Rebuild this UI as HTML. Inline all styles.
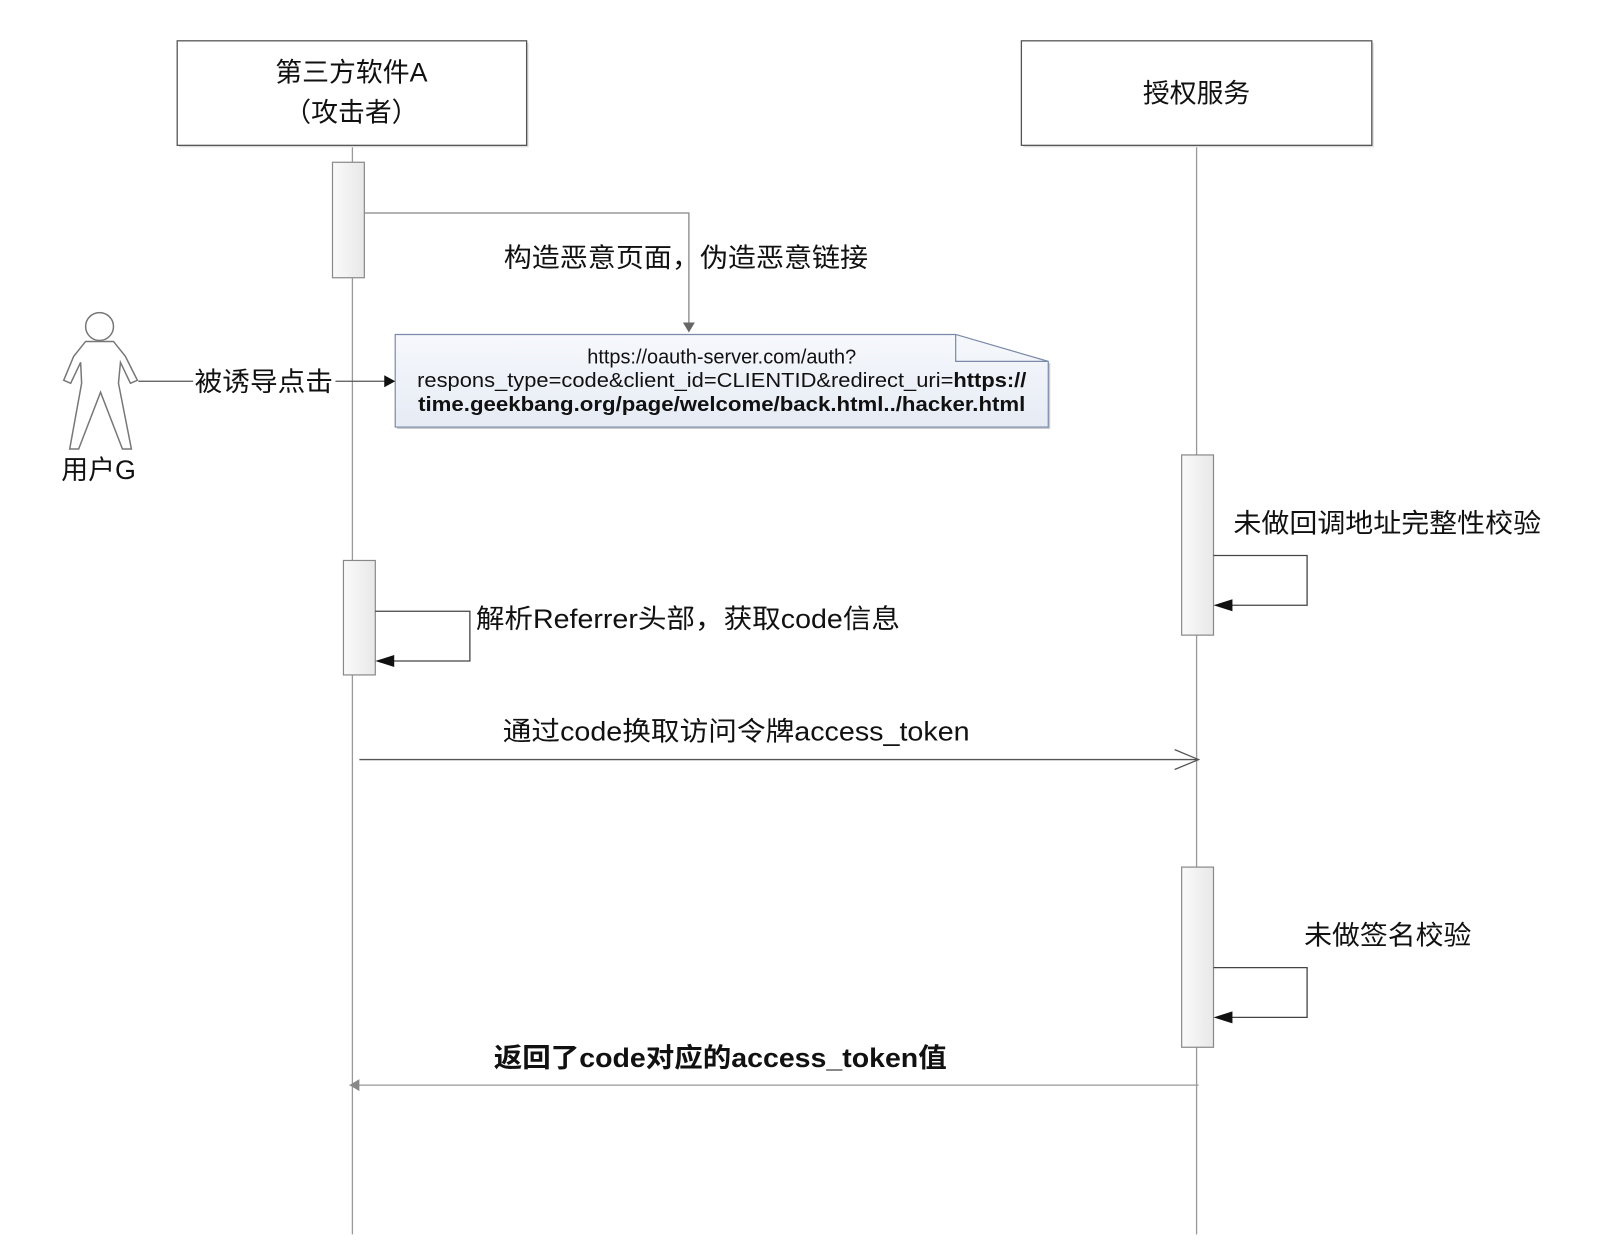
<!DOCTYPE html>
<html><head><meta charset="utf-8"><style>
html,body{margin:0;padding:0;background:#fff;}
svg{display:block;}
text{font-family:"Liberation Sans","Noto Sans CJK SC",sans-serif;fill:#111;}
</style></head><body>
<svg width="1610" height="1260" viewBox="0 0 1610 1260" xmlns="http://www.w3.org/2000/svg">
<defs>
<linearGradient id="ag" x1="0" x2="1"><stop offset="0" stop-color="#fafafa"/><stop offset="1" stop-color="#e8e8e8"/></linearGradient>
<linearGradient id="ng" x1="0" y1="0" x2="0" y2="1"><stop offset="0" stop-color="#f6f8fc"/><stop offset="1" stop-color="#e6ebf4"/></linearGradient>
</defs>
<g transform="scale(0.9955)">
<!-- lifelines -->
<line x1="354" y1="146" x2="354" y2="1240" stroke="#999" stroke-width="1.3"/>
<line x1="1202" y1="146" x2="1202" y2="1240" stroke="#999" stroke-width="1.3"/>
<!-- header boxes -->
<rect x="180" y="43" width="351" height="105" fill="#ddd"/>
<rect x="178" y="41" width="351" height="105" fill="#fff" stroke="#555" stroke-width="1.3"/>
<text x="353" y="82" font-size="27" text-anchor="middle">第三方软件A</text>
<text x="353" y="122" font-size="27" text-anchor="middle">（攻击者）</text>
<rect x="1028" y="43" width="352" height="105" fill="#ddd"/>
<rect x="1026" y="41" width="352" height="105" fill="#fff" stroke="#555" stroke-width="1.3"/>
<text x="1202" y="103" font-size="27" text-anchor="middle">授权服务</text>
<!-- activations -->
<rect x="334" y="163" width="32" height="116" fill="url(#ag)" stroke="#888" stroke-width="1.2"/>
<rect x="345" y="563" width="32" height="115" fill="url(#ag)" stroke="#888" stroke-width="1.2"/>
<rect x="1187" y="457" width="32" height="181" fill="url(#ag)" stroke="#888" stroke-width="1.2"/>
<rect x="1187" y="871" width="32" height="181" fill="url(#ag)" stroke="#888" stroke-width="1.2"/>
<!-- message 1 -->
<polyline points="366,214 692,214 692,328" fill="none" stroke="#888" stroke-width="1.3"/>
<polygon points="686,324 698,324 692,334" fill="#666"/>
<text x="689" y="268" font-size="27" text-anchor="middle" textLength="366" lengthAdjust="spacingAndGlyphs">构造恶意页面，伪造恶意链接</text>
<!-- note -->
<polygon points="399,338 962,338 1055,365 1055,431 399,431" fill="#ccc"/>
<polygon points="397,336 960,336 1053,363 1053,429 397,429" fill="url(#ng)" stroke="#7a8aa8" stroke-width="1.2"/>
<polyline points="960,336 960,363 1053,363" fill="none" stroke="#7a8aa8" stroke-width="1.2"/>
<text x="725" y="365" font-size="20" text-anchor="middle" fill="#222">https://oauth-server.com/auth?</text>
<text x="725" y="389" font-size="20" text-anchor="middle" fill="#222" textLength="612" lengthAdjust="spacingAndGlyphs">respons_type=code&amp;client_id=CLIENTID&amp;redirect_uri=<tspan font-weight="bold">https://</tspan></text>
<text x="725" y="413" font-size="20" text-anchor="middle" font-weight="bold" fill="#222" textLength="610" lengthAdjust="spacingAndGlyphs">time.geekbang.org/page/welcome/back.html../hacker.html</text>
<!-- actor -->
<g fill="#fff" stroke="#777" stroke-width="1.5">
<circle cx="100" cy="328" r="14"/>
<path d="M86,343 L114,343 L126,358 L138,382 L131,385 L121,364 L119,385 L132,451 L123,451 L101,394 L79,451 L70,451 L82,385 L81,364 L71,385 L64,382 L74,358 Z"/>
</g>
<text x="99" y="481" font-size="27" text-anchor="middle">用户G</text>
<line x1="139" y1="383" x2="390" y2="383" stroke="#555" stroke-width="1.3"/>
<polygon points="386,377 397,383 386,389" fill="#111"/>
<rect x="194" y="366" width="143" height="32" fill="#fff"/>
<text x="265" y="393" font-size="27" text-anchor="middle" textLength="139" lengthAdjust="spacingAndGlyphs">被诱导点击</text>
<!-- self loop B1 -->
<polyline points="1219,558 1313,558 1313,608 1230,608" fill="none" stroke="#444" stroke-width="1.3"/>
<polygon points="1219,608 1238,602 1238,614" fill="#111"/>
<text x="1239" y="535" font-size="27" textLength="309" lengthAdjust="spacingAndGlyphs">未做回调地址完整性校验</text>
<!-- self loop A2 -->
<polyline points="377,614 472,614 472,664 388,664" fill="none" stroke="#444" stroke-width="1.3"/>
<polygon points="377,664 396,658 396,670" fill="#111"/>
<text x="478" y="631" font-size="27" textLength="426" lengthAdjust="spacingAndGlyphs">解析Referrer头部，获取code信息</text>
<!-- message exchange -->
<line x1="361" y1="763" x2="1204" y2="763" stroke="#555" stroke-width="1.3"/>
<polyline points="1180,753 1204,763 1180,773" fill="none" stroke="#555" stroke-width="1.3"/>
<text x="505" y="744" font-size="27" textLength="469" lengthAdjust="spacingAndGlyphs">通过code换取访问令牌access_token</text>
<!-- self loop B2 -->
<polyline points="1219,972 1313,972 1313,1022 1230,1022" fill="none" stroke="#444" stroke-width="1.3"/>
<polygon points="1219,1022 1238,1016 1238,1028" fill="#111"/>
<text x="1310" y="949" font-size="27" textLength="168" lengthAdjust="spacingAndGlyphs">未做签名校验</text>
<!-- return -->
<line x1="351" y1="1090" x2="1204" y2="1090" stroke="#999" stroke-width="1.3"/>
<polygon points="351,1090 361,1084 361,1096" fill="#888"/>
<text x="496" y="1072" font-size="27" font-weight="bold" textLength="455" lengthAdjust="spacingAndGlyphs">返回了code对应的access_token值</text>
</g>
</svg>
</body></html>
